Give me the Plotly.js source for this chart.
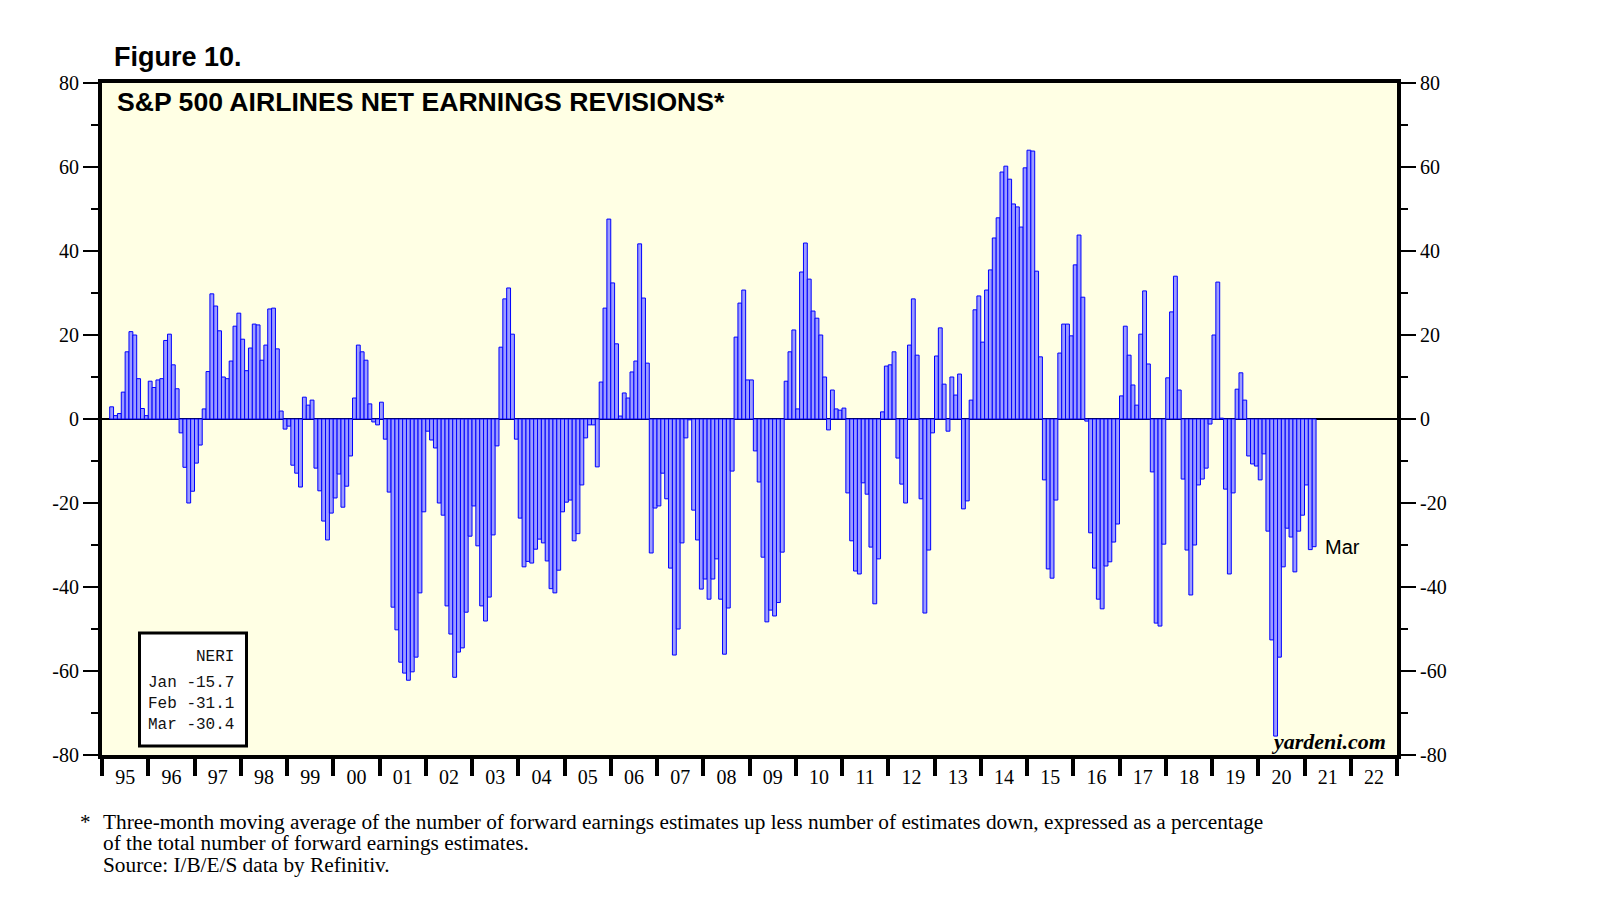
<!DOCTYPE html>
<html>
<head>
<meta charset="utf-8">
<script src="https://cdn.plot.ly/plotly-3.0.1.min.js"></script>
<style>
  html, body { margin: 0; padding: 0; background: #ffffff; }
  #chart { width: 1610px; height: 911px; }
</style>
</head>
<body>
<div id="chart"></div>
<script>
// ---- data: monthly NERI, S&P 500 Airlines, Mar 1995 .. Mar 2021 ----
const startYear = 1995;
const startMonth = 3;
const neri = [
  // 1995 (Mar-Dec)
  2.9, 0.8, 1.3, 6.4, 16.0, 20.8, 20.0, 9.6, 2.5, 0.8,
  // 1996
  9.0, 7.5, 9.3, 9.6, 18.7, 20.2, 12.9, 7.2, -3.3, -11.5, -20.0, -17.2,
  // 1997
  -10.5, -6.2, 2.4, 11.3, 29.8, 26.9, 21.0, 10.0, 9.6, 13.8, 22.1, 25.2,
  // 1998
  19.0, 11.5, 16.9, 22.6, 22.4, 14.0, 17.6, 26.2, 26.4, 16.7, 1.9, -2.4,
  // 1999
  -1.7, -11.0, -12.9, -16.2, 5.2, 3.3, 4.5, -11.7, -17.1, -24.3, -28.8, -22.4,
  // 2000
  -18.8, -13.1, -21.0, -16.0, -8.8, 5.0, 17.6, 16.0, 14.0, 3.6, -0.7, -1.4,
  // 2001
  4.0, -4.8, -17.4, -44.8, -50.2, -57.9, -60.5, -62.2, -60.2, -56.7, -41.4, -22.1,
  // 2002
  -2.9, -5.0, -6.9, -20.0, -22.9, -44.5, -51.2, -61.5, -55.5, -54.5, -46.0, -27.9,
  // 2003
  -20.7, -30.2, -44.5, -48.1, -42.4, -27.6, -6.4, 17.1, 28.6, 31.2, 20.2, -4.8,
  // 2004
  -23.6, -35.2, -33.9, -34.3, -31.0, -28.6, -29.5, -33.8, -40.4, -41.4, -36.0, -22.1,
  // 2005
  -19.8, -19.3, -29.0, -27.3, -15.7, -4.5, -1.4, -1.4, -11.4, 8.8, 26.4, 47.6,
  // 2006
  32.4, 17.9, 0.7, 6.2, 5.0, 11.2, 13.8, 41.7, 28.8, 13.3, -31.9, -21.2,
  // 2007
  -20.7, -12.9, -19.0, -35.5, -56.2, -50.0, -29.5, -4.5, -0.2, -21.7, -28.8, -40.5,
  // 2008
  -38.1, -42.9, -38.1, -33.3, -42.9, -56.0, -45.0, -12.4, 19.5, 27.6, 30.7, 9.3,
  // 2009
  9.3, -7.6, -15.0, -32.9, -48.3, -45.5, -46.9, -43.7, -31.7, 9.0, 16.0, 21.2,
  // 2010
  2.4, 35.0, 41.9, 33.3, 25.7, 24.0, 20.0, 10.0, -2.6, 6.9, 2.4, 2.1,
  // 2011
  2.6, -17.6, -29.0, -36.2, -36.9, -15.2, -17.9, -30.5, -44.0, -33.3, 1.7, 12.6,
  // 2012
  12.9, 16.0, -9.3, -15.5, -20.0, 17.6, 28.6, 15.2, -19.0, -46.2, -31.2, -3.3,
  // 2013
  15.0, 21.7, 8.3, -2.9, 10.0, 5.7, 10.7, -21.4, -19.5, 4.5, 26.0, 29.3,
  // 2014
  18.3, 30.7, 35.5, 43.1, 47.9, 58.8, 60.2, 57.1, 51.2, 50.5, 45.7, 59.8,
  // 2015
  64.0, 63.8, 35.2, 14.8, -14.5, -35.7, -37.9, -19.3, 15.7, 22.6, 22.6, 19.8,
  // 2016
  36.7, 43.8, 29.0, -0.5, -27.1, -35.5, -42.9, -45.2, -35.0, -34.0, -29.3, -25.0,
  // 2017
  5.5, 22.1, 15.2, 8.1, 3.3, 20.2, 30.5, 13.1, -12.6, -48.6, -49.3, -29.8,
  // 2018
  9.8, 25.5, 34.0, 6.9, -14.3, -31.2, -41.9, -30.0, -15.7, -14.3, -11.7, -1.2,
  // 2019
  20.0, 32.6, 0.2, -16.7, -36.9, -17.6, 7.1, 11.0, 4.5, -8.8, -10.7, -11.2,
  // 2020
  -14.5, -8.3, -26.7, -52.6, -75.5, -56.7, -35.2, -26.0, -28.1, -36.4, -26.7, -22.9,
  // 2021 (Jan-Mar)
  -15.7, -31.1, -30.4
];
const yearLabels = ['95','96','97','98','99','00','01','02','03','04','05','06','07',
  '08','09','10','11','12','13','14','15','16','17','18','19','20','21','22'];
const yTickVals = [-80, -60, -40, -20, 0, 20, 40, 60, 80];
const yTickText = ['-80', '-60', '-40', '-20', '0', '20', '40', '60', '80'];
const legendMonths = ['Jan', 'Feb', 'Mar'];
const legendValues = [-15.7, -31.1, -30.4];

// ---- derived positions (fractional years, month centres) ----
const xVals = neri.map((v, i) => startYear + (startMonth - 1 + i + 0.5) / 12);
const firstYear = 1995, lastYear = 2023;
const yearBounds = [];
for (let y = firstYear; y <= lastYear; y++) yearBounds.push(y);
const yearMids = yearLabels.map((l, i) => firstYear + i + 0.5);
const yMinor = [];
for (let v = -80; v <= 80; v += 10) yMinor.push(v);

const serif = 'Liberation Serif, Times New Roman, serif';
const sans = 'Liberation Sans, Arial, sans-serif';
const mono = 'Liberation Mono, Courier New, monospace';

const trace = {
  type: 'bar',
  x: xVals,
  y: neri,
  width: 1 / 12,
  marker: { color: '#9c9cff', line: { color: '#0000ff', width: 1 } },
  hoverinfo: 'y',
  showlegend: false
};
// invisible companion so the right-hand mirror axis is drawn
const rightAxisTrace = {
  type: 'scatter',
  mode: 'markers',
  x: [xVals[0]],
  y: [neri[0]],
  yaxis: 'y2',
  marker: { opacity: 0, size: 1 },
  hoverinfo: 'skip',
  showlegend: false
};

// px -> paper helpers for the fixed page layout
const L = 102, R = 1397, T = 83, B = 755;
const px = p => (p - L) / (R - L);
const py = p => (B - p) / (B - T);

const legendText = legendMonths.map((m, i) => m + ' ' + legendValues[i].toFixed(1)).join('<br>');
const lastX = xVals[xVals.length - 1] + 0.5 / 12;
const lastY = neri[neri.length - 1];

const yAxisCommon = {
  range: [-80, 80],
  tickmode: 'array',
  tickvals: yTickVals,
  ticktext: yTickText,
  ticks: 'outside',
  ticklen: 15,
  tickwidth: 1.5,
  tickcolor: '#000',
  tickfont: { family: serif, size: 20, color: '#000' },
  showgrid: false,
  fixedrange: true,
  minor: { tickmode: 'array', tickvals: yMinor, ticks: 'outside', ticklen: 7, tickwidth: 1.5, tickcolor: '#000', showgrid: false }
};

const layout = {
  width: 1610,
  height: 911,
  margin: { l: L, r: 1610 - R, t: T, b: 911 - B },
  paper_bgcolor: '#ffffff',
  plot_bgcolor: '#ffffe4',
  bargap: 0,
  title: {
    text: 'Figure 10.',
    font: { family: sans, size: 27, weight: 700, color: '#000' },
    x: 114 / 1610, xanchor: 'left', xref: 'container',
    y: 1 - 57 / 911, yanchor: 'middle', yref: 'container'
  },
  xaxis: {
    range: [firstYear, lastYear],
    tickmode: 'array',
    tickvals: yearMids,
    ticktext: yearLabels,
    ticks: 'outside',
    ticklen: 1,
    tickcolor: 'rgba(0,0,0,0)',
    tickfont: { family: serif, size: 20, color: '#000' },
    showline: true,
    linecolor: '#000',
    linewidth: 4,
    mirror: true,
    showgrid: false,
    zeroline: false,
    fixedrange: true,
    minor: { tickmode: 'array', tickvals: yearBounds, ticks: 'outside', ticklen: 17, tickwidth: 4, tickcolor: '#000', showgrid: false }
  },
  yaxis: Object.assign({}, yAxisCommon, {
    side: 'left',
    showline: true,
    linecolor: '#000',
    linewidth: 4,
    zeroline: true,
    zerolinecolor: '#000',
    zerolinewidth: 1.5
  }),
  yaxis2: Object.assign({}, yAxisCommon, {
    overlaying: 'y',
    side: 'right',
    anchor: 'x',
    showline: true,
    linecolor: '#000',
    linewidth: 4,
    zeroline: false
  }),
  shapes: [
    {
      type: 'rect', xref: 'paper', yref: 'paper',
      x0: px(139.5), x1: px(246.5), y0: py(746), y1: py(633),
      fillcolor: '#ffffff', line: { color: '#000', width: 3 }
    }
  ],
  annotations: [
    {
      text: 'S&P 500 AIRLINES NET EARNINGS REVISIONS*',
      xref: 'paper', yref: 'paper', x: px(115), y: py(102),
      xanchor: 'left', yanchor: 'middle', showarrow: false,
      font: { family: sans, size: 26.6, weight: 700, color: '#000' }
    },
    {
      text: 'NERI',
      xref: 'paper', yref: 'paper', x: px(236), y: py(657),
      xanchor: 'right', yanchor: 'middle', showarrow: false, align: 'right',
      font: { family: mono, size: 16, color: '#111' }
    },
    {
      text: legendText,
      xref: 'paper', yref: 'paper', x: px(236), y: py(704),
      xanchor: 'right', yanchor: 'middle', showarrow: false, align: 'right',
      font: { family: mono, size: 16, color: '#111' }
    },
    {
      text: legendMonths[legendMonths.length - 1],
      xref: 'x', yref: 'y', x: lastX, y: lastY,
      xanchor: 'left', yanchor: 'middle', xshift: 7, showarrow: false,
      font: { family: sans, size: 20, color: '#000' }
    },
    {
      text: 'yardeni.com',
      xref: 'paper', yref: 'paper', x: px(1388), y: py(741),
      xanchor: 'right', yanchor: 'middle', showarrow: false,
      font: { family: serif, size: 22, weight: 700, style: 'italic', color: '#000' }
    },
    {
      text: '*',
      xref: 'paper', yref: 'paper', x: px(78), y: py(822),
      xanchor: 'left', yanchor: 'middle', showarrow: false,
      font: { family: serif, size: 21, color: '#000' }
    },
    {
      text: 'Three-month moving average of the number of forward earnings estimates up less number of estimates down, expressed as a percentage',
      xref: 'paper', yref: 'paper', x: px(101), y: py(822),
      xanchor: 'left', yanchor: 'middle', showarrow: false,
      font: { family: serif, size: 21.3, color: '#000' }
    },
    {
      text: 'of the total number of forward earnings estimates.',
      xref: 'paper', yref: 'paper', x: px(101), y: py(843),
      xanchor: 'left', yanchor: 'middle', showarrow: false,
      font: { family: serif, size: 21.3, color: '#000' }
    },
    {
      text: 'Source: I/B/E/S data by Refinitiv.',
      xref: 'paper', yref: 'paper', x: px(101), y: py(865),
      xanchor: 'left', yanchor: 'middle', showarrow: false,
      font: { family: serif, size: 21.3, color: '#000' }
    }
  ]
};

Plotly.newPlot('chart', [trace, rightAxisTrace], layout, { displayModeBar: false, staticPlot: true });
</script>
</body>
</html>
